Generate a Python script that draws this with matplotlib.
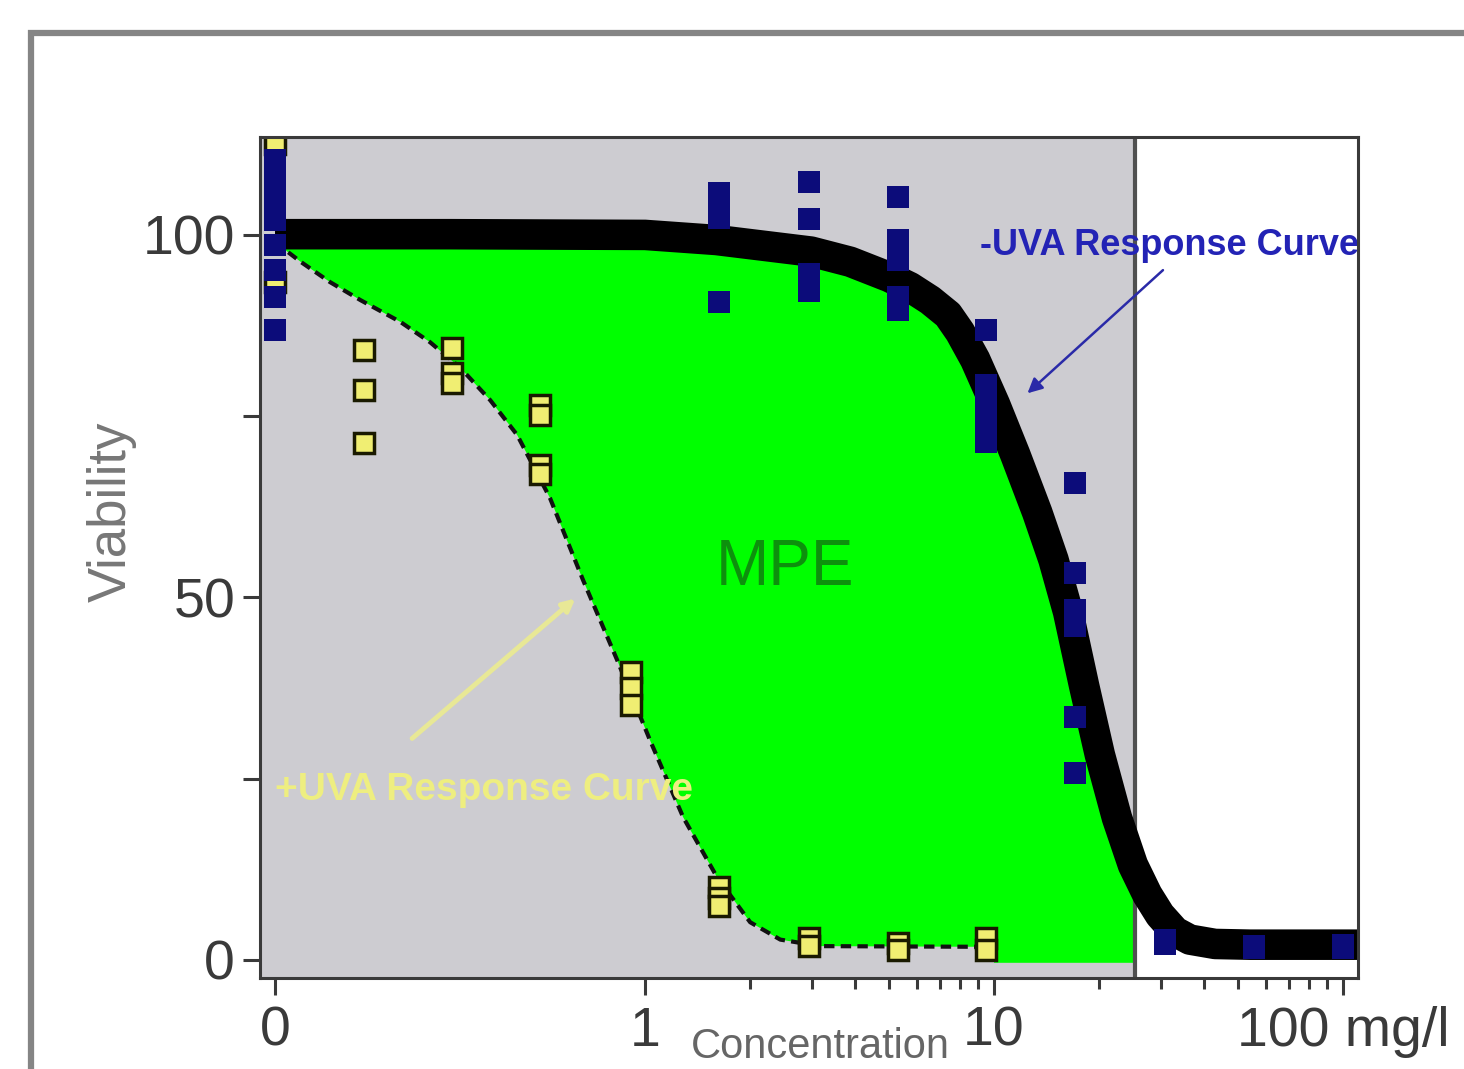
import numpy as np
import matplotlib
matplotlib.use("Agg")
import matplotlib.pyplot as plt
from matplotlib import font_manager
from matplotlib.patches import Rectangle
from matplotlib.ticker import FixedLocator, FixedFormatter, NullFormatter

plt.rcParams['font.family'] = ['Liberation Sans', 'DejaVu Sans']
names = {f.name for f in font_manager.fontManager.ttflist}
if 'Liberation Sans Narrow' in names:
    label_font, label_size = 'Liberation Sans Narrow', 31
else:
    label_font, label_size = 'Liberation Sans', 26

ZERO_POS = 0.087    # where concentration 0 is drawn on the log axis
SHADE_END = 25.4    # divider between grey and white part

# fitted curves (concentration mg/l, viability)
minus_fit_x = [0, 0.276, 1, 1.6, 2.99, 3.87, 5.0, 5.74, 6.56, 7.38, 7.99, 8.83,
               10.07, 11.5, 13.3, 14.8, 16.3, 18.1, 20.1, 22.5, 25.0, 27.5,
               29.9, 33.0, 36.4, 43.0, 54.2, 110.4]
minus_fit_y = [100.1, 100.1, 100.0, 99.3, 97.7, 96.3, 94.2, 92.8, 91.0, 89.0,
               86.6, 82.8, 76.6, 69.7, 61.7, 55.2, 48.0, 37.9, 28.3, 19.6,
               13.1, 9.0, 6.2, 3.9, 2.8, 2.2, 2.1, 2.1]

plus_fit_x = [0, 0.103, 0.125, 0.153, 0.199, 0.242, 0.295, 0.36, 0.43, 0.534,
              0.664, 0.831, 1.033, 1.285, 1.608, 2.0, 2.44, 3.17, 10]
plus_fit_y = [99.0, 96.3, 93.5, 91.0, 88.0, 85.2, 81.7, 77.2, 72.4, 63.7,
              52.4, 41.4, 30.3, 19.7, 11.4, 5.2, 2.8, 1.9, 1.8]

# measured points, -UVA (blue) and +UVA (yellow)
minus_conc = [0, 0, 0, 0, 0, 0, 0, 0,
              1.63, 1.63, 1.63, 1.63,
              2.94, 2.94, 2.94, 2.94,
              5.3, 5.3, 5.3, 5.3, 5.3,
              9.5, 9.5, 9.5, 9.5, 9.5,
              17.1, 17.1, 17.1, 17.1, 17.1, 17.1,
              30.9, 30.9, 55.6, 55.6, 100, 100]
minus_viab = [110.3, 107.6, 104.8, 102, 98.6, 95.2, 91.4, 86.9,
              105.8, 104.2, 102.4, 90.8,
              107.3, 102.2, 94.6, 92.2,
              105.2, 99.3, 96.5, 91.5, 89.7,
              86.9, 79.3, 76.5, 74.5, 71.4,
              65.8, 53.4, 48.3, 46.0, 33.5, 25.8,
              2.8, 2.2, 1.6, 1.9, 1.6, 2.0]

plus_conc = [0, 0,
             0.156, 0.156, 0.156,
             0.28, 0.28, 0.28,
             0.5, 0.5, 0.5, 0.5,
             0.91, 0.91, 0.91,
             1.63, 1.63, 1.63,
             2.94, 2.94, 5.3, 5.3, 9.5, 9.5]
plus_viab = [112.5, 93.5,
             84.1, 78.6, 71.3,
             84.4, 81.0, 79.6,
             76.6, 75.2, 68.3, 67.0,
             39.7, 37.5, 35.2,
             10.0, 8.5, 7.5,
             3.0, 1.9, 2.3, 1.4, 3.0, 1.4]

x_ticks = [0, 1, 10, 100]
x_ticklabels = ['0', '1', '10', '100 mg/l']
x_minor = [2, 3, 4, 5, 6, 7, 8, 9, 20, 30, 40, 50, 60, 70, 80, 90]
y_ticks = [0, 25, 50, 75, 100]
y_ticklabels = ['0', '', '50', '', '100']


def xpos(v):
    v = np.asarray(v, dtype=float)
    return np.where(v == 0, ZERO_POS, v)


fig = plt.figure(figsize=(14.64, 10.69), dpi=100)
ax = fig.add_axes([0.1776, 0.0851, 0.75, 0.7867])
ax.set_facecolor('#cdccd1')
ax.set_xscale('log')
ax.set_xlim(0.0788, 110.4)
ax.set_ylim(-2.5, 113.5)

# MPE area between the two fits
bx = list(xpos(minus_fit_x)) + [110.4, 10] + list(xpos(plus_fit_x))[::-1]
by = minus_fit_y + [-0.4, -0.4] + plus_fit_y[::-1]
ax.fill(bx, by, color='#00ff00', zorder=1, lw=0)
ax.axvspan(SHADE_END, 200, color='white', zorder=1.5, lw=0)
ax.axvline(SHADE_END, color='#505050', lw=3, zorder=2)

ax.plot(xpos(minus_fit_x), minus_fit_y, color='black', lw=22,
        solid_capstyle='butt', solid_joinstyle='round', zorder=3)
ax.plot(xpos(plus_fit_x), plus_fit_y, color='#111111', lw=3,
        dashes=(2.5, 1.5), zorder=3.5)

ax.plot(xpos(plus_conc), plus_viab, 's', ms=15, mfc='#f0ee72', mec='#1a1a00',
        mew=2.5, zorder=4)
ax.plot(xpos(minus_conc), minus_viab, 's', ms=16, color='#0c0c7a', mew=0,
        zorder=5)

# annotations
ax.text(9.1, 98.6, '-UVA Response Curve', color='#2323b5', fontsize=label_size,
        fontweight='bold', family=label_font, ha='left', va='center', zorder=6)
ax.annotate('', xy=(12.3, 77.9), xytext=(30.9, 95.4),
            arrowprops=dict(arrowstyle='-|>', color='#2a2aa8', lw=1.8,
                            mutation_scale=22), zorder=6)

ax.text(ZERO_POS, 23.4, '+UVA Response Curve', color='#eeee80', fontsize=28,
        fontweight='bold', ha='left', va='center', zorder=6)
ax.annotate('', xy=(0.64, 50.1), xytext=(0.212, 30.3),
            arrowprops=dict(arrowstyle='-|>', color='#e8e896', lw=3.5,
                            mutation_scale=18), zorder=6)

ax.text(2.52, 54.1, 'MPE', color='#0d900d', fontsize=46, ha='center',
        va='center', zorder=6)

# axes styling
for sp in ax.spines.values():
    sp.set_color('#3a3a3a')
    sp.set_linewidth(2.2)
    sp.set_zorder(7)

ax.xaxis.set_major_locator(FixedLocator(list(xpos(x_ticks))))
ax.xaxis.set_major_formatter(FixedFormatter(x_ticklabels))
ax.xaxis.set_minor_locator(FixedLocator(x_minor))
ax.xaxis.set_minor_formatter(NullFormatter())
ax.yaxis.set_major_locator(FixedLocator(y_ticks))
ax.yaxis.set_major_formatter(FixedFormatter(y_ticklabels))
ax.yaxis.set_minor_locator(FixedLocator([]))

ax.tick_params(axis='x', which='major', length=12, width=2.2, pad=8,
               labelsize=40, colors='#3a3a3a')
ax.tick_params(axis='x', which='minor', length=8, width=2.2, colors='#3a3a3a')
ax.tick_params(axis='y', which='major', length=12, width=2.2, pad=6,
               labelsize=40, colors='#3a3a3a')

fig.text(112 / 1464, 1 - 512 / 1069, 'Viability', rotation=90, fontsize=38,
         color='#777777', ha='center', va='center')
fig.text(820 / 1464, 1.5 / 1069, 'Concentration', fontsize=30,
         color='#666666', ha='center', va='bottom')

# outer frame of the original figure
fig.patches.append(Rectangle((31 / 1464, -0.1), 1.2, 1.1 - 33 / 1069,
                             transform=fig.transFigure, fill=False,
                             edgecolor='#858585', lw=4.5))

fig.savefig('out.png', dpi=100)
